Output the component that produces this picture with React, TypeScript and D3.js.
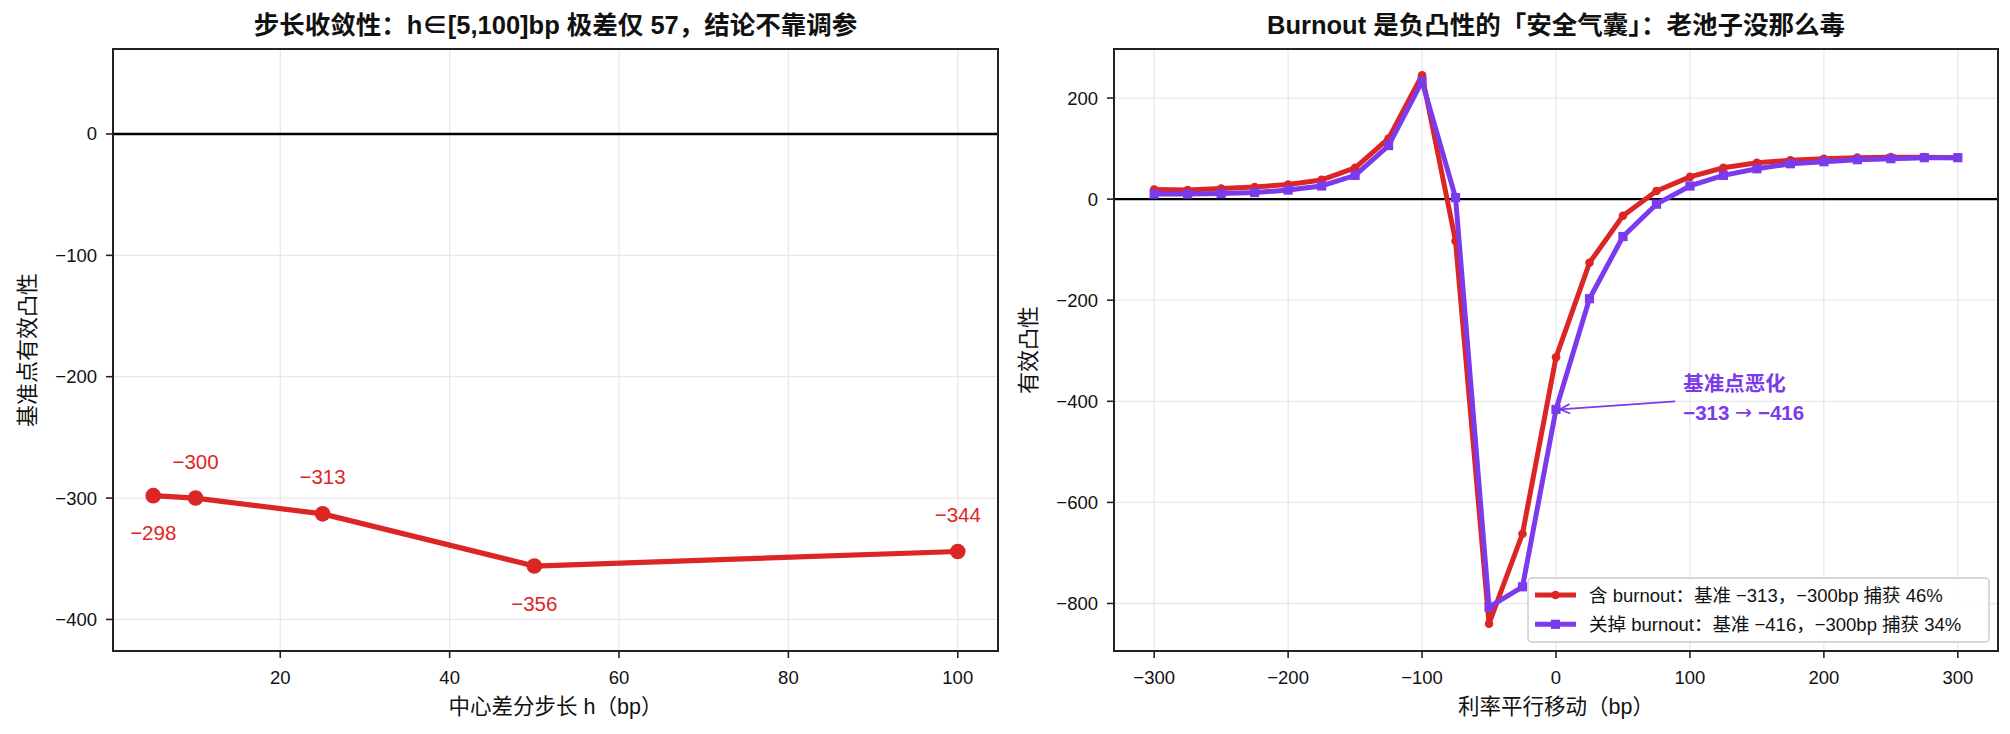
import { useRef, useEffect } from 'react'
import * as d3 from 'd3'

// left panel: step-size convergence
const stepH = [5, 10, 25, 50, 100]
const stepConvexity = [-298, -300, -313, -356, -344]
const stepLabelAbove = [false, true, true, false, true]
const leftXTicks = [20, 40, 60, 80, 100]
const leftYTicks = [0, -100, -200, -300, -400]

// right panel: convexity profile with / without burnout
const shocks = [-300, -275, -250, -225, -200, -175, -150, -125, -100, -75, -50, -25, 0, 25, 50, 75, 100, 125, 150, 175, 200, 225, 250, 275, 300]
const withBurnout = [19, 18, 21, 24, 29, 38, 62, 120, 245, -83, -840, -662, -313, -126, -33, 16, 44, 62, 72, 77, 80, 82, 83, 83, 82]
const withoutBurnout = [10, 10, 11, 13, 18, 26, 47, 106, 233, 3, -807, -767, -416, -197, -74, -10, 26, 47, 60, 70, 74, 78, 80, 82, 82]
const rightXTicks = [-300, -200, -100, 0, 100, 200, 300]
const rightYTicks = [200, 0, -200, -400, -600, -800]

const legendLabels = [
  '含 burnout：基准 −313，−300bp 捕获 46%',
  '关掉 burnout：基准 −416，−300bp 捕获 34%',
]

const RED = '#dc2626'
const PURPLE = '#7c3aed'
const FONT = '"Liberation Sans", "Noto Sans CJK SC", sans-serif'
const W = 2010
const H = 734

const fmt = (v: number) => String(v).replace('-', '−')

export default function App() {
  const svgRef = useRef<SVGSVGElement>(null)

  useEffect(() => {
    const svg = d3.select(svgRef.current)
    svg.selectAll('*').remove()
    svg.attr('font-family', FONT)

    const top = 49, bottom = 651

    function axesFrame(
      x: d3.ScaleLinear<number, number>,
      y: d3.ScaleLinear<number, number>,
      xTicks: number[],
      yTicks: number[],
      title: string,
      xLabel: string,
      yLabel: string,
      yLabelX: number,
    ) {
      const [x0, x1] = x.range()
      const g = svg.append('g')
      // grid
      g.selectAll('.gx').data(xTicks).join('line')
        .attr('x1', d => x(d)).attr('x2', d => x(d))
        .attr('y1', top).attr('y2', bottom)
        .attr('stroke', '#e8e8e8').attr('stroke-width', 1.3)
      g.selectAll('.gy').data(yTicks).join('line')
        .attr('x1', x0).attr('x2', x1)
        .attr('y1', d => y(d)).attr('y2', d => y(d))
        .attr('stroke', '#e8e8e8').attr('stroke-width', 1.3)
      // zero line
      g.append('line')
        .attr('x1', x0).attr('x2', x1)
        .attr('y1', y(0)).attr('y2', y(0))
        .attr('stroke', '#000').attr('stroke-width', 2.4)

      const front = svg.append('g').attr('class', 'front')
      // ticks
      front.selectAll('.tx').data(xTicks).join('line')
        .attr('x1', d => x(d)).attr('x2', d => x(d))
        .attr('y1', bottom).attr('y2', bottom + 7)
        .attr('stroke', '#222').attr('stroke-width', 1.6)
      front.selectAll('.txl').data(xTicks).join('text')
        .attr('x', d => x(d)).attr('y', 677)
        .attr('text-anchor', 'middle').attr('dominant-baseline', 'central')
        .attr('font-size', 18.5).attr('fill', '#111')
        .text(d => fmt(d))
      front.selectAll('.ty').data(yTicks).join('line')
        .attr('x1', x0 - 7).attr('x2', x0)
        .attr('y1', d => y(d)).attr('y2', d => y(d))
        .attr('stroke', '#222').attr('stroke-width', 1.6)
      front.selectAll('.tyl').data(yTicks).join('text')
        .attr('x', x0 - 16).attr('y', d => y(d))
        .attr('text-anchor', 'end').attr('dominant-baseline', 'central')
        .attr('font-size', 18.5).attr('fill', '#111')
        .text(d => fmt(d))
      // labels
      front.append('text')
        .attr('x', (x0 + x1) / 2).attr('y', 25)
        .attr('text-anchor', 'middle').attr('dominant-baseline', 'central')
        .attr('font-size', 25.5).attr('font-weight', 'bold').attr('fill', '#111')
        .text(title)
      front.append('text')
        .attr('x', (x0 + x1) / 2).attr('y', 707)
        .attr('text-anchor', 'middle').attr('dominant-baseline', 'central')
        .attr('font-size', 21.5).attr('fill', '#111')
        .text(xLabel)
      front.append('text')
        .attr('transform', `translate(${yLabelX},${(top + bottom) / 2}) rotate(-90)`)
        .attr('text-anchor', 'middle').attr('dominant-baseline', 'central')
        .attr('font-size', 22).attr('fill', '#111')
        .text(yLabel)
      return front
    }

    function frameRect(x: d3.ScaleLinear<number, number>) {
      const [x0, x1] = x.range()
      svg.append('rect')
        .attr('x', x0).attr('y', top)
        .attr('width', x1 - x0).attr('height', bottom - top)
        .attr('fill', 'none').attr('stroke', '#222').attr('stroke-width', 2)
    }

    // ---------- left ----------
    const xL = d3.scaleLinear().domain([0.25, 104.75]).range([113, 998])
    const yL = d3.scaleLinear().domain([-426, 70]).range([bottom, top])
    axesFrame(xL, yL, leftXTicks, leftYTicks,
      '步长收敛性：h∈[5,100]bp 极差仅 57，结论不靠调参',
      '中心差分步长 h（bp）', '基准点有效凸性', 27)

    const stepData = stepH.map((h, i) => ({ h, v: stepConvexity[i], above: stepLabelAbove[i] }))
    const lineL = d3.line<{ h: number; v: number }>().x(d => xL(d.h)).y(d => yL(d.v))
    svg.append('path').datum(stepData)
      .attr('d', lineL).attr('fill', 'none')
      .attr('stroke', RED).attr('stroke-width', 5.2).attr('stroke-linejoin', 'round')
    svg.selectAll('.ptL').data(stepData).join('circle')
      .attr('cx', d => xL(d.h)).attr('cy', d => yL(d.v)).attr('r', 7.8)
      .attr('fill', RED)
    svg.selectAll('.lblL').data(stepData).join('text')
      .attr('x', d => xL(d.h)).attr('y', d => yL(d.v) + (d.above ? -37 : 37))
      .attr('text-anchor', 'middle').attr('dominant-baseline', 'central')
      .attr('font-size', 20.5).attr('fill', RED)
      .text(d => fmt(d.v))
    frameRect(xL)

    // ---------- right ----------
    const xR = d3.scaleLinear().domain([-330, 330]).range([1114, 1998])
    const yR = d3.scaleLinear().domain([-894, 297]).range([bottom, top])
    axesFrame(xR, yR, rightXTicks, rightYTicks,
      'Burnout 是负凸性的「安全气囊」：老池子没那么毒',
      '利率平行移动（bp）', '有效凸性', 1028)

    type P = { s: number; v: number }
    const redData: P[] = shocks.map((s, i) => ({ s, v: withBurnout[i] }))
    const purpleData: P[] = shocks.map((s, i) => ({ s, v: withoutBurnout[i] }))
    const lineR = d3.line<P>().x(d => xR(d.s)).y(d => yR(d.v))

    svg.append('path').datum(redData)
      .attr('d', lineR).attr('fill', 'none')
      .attr('stroke', RED).attr('stroke-width', 5).attr('stroke-linejoin', 'round')
    svg.selectAll('.ptR').data(redData).join('circle')
      .attr('cx', d => xR(d.s)).attr('cy', d => yR(d.v)).attr('r', 4.3)
      .attr('fill', RED)
    svg.append('path').datum(purpleData)
      .attr('d', lineR).attr('fill', 'none')
      .attr('stroke', PURPLE).attr('stroke-width', 5).attr('stroke-linejoin', 'round')
    svg.selectAll('.ptP').data(purpleData).join('rect')
      .attr('x', d => xR(d.s) - 4.6).attr('y', d => yR(d.v) - 4.6)
      .attr('width', 9.2).attr('height', 9.2)
      .attr('fill', PURPLE)

    // annotation
    const tipX = xR(3), tipY = yR(-416)
    const tailX = xR(89), tailY = yR(-400)
    const ang = Math.atan2(tipY - tailY, tipX - tailX)
    const hl = 11, hw = 0.45
    svg.append('line')
      .attr('x1', tailX).attr('y1', tailY).attr('x2', tipX).attr('y2', tipY)
      .attr('stroke', PURPLE).attr('stroke-width', 1.8)
    svg.append('path')
      .attr('d', `M${tipX - hl * Math.cos(ang - hw)},${tipY - hl * Math.sin(ang - hw)}L${tipX},${tipY}L${tipX - hl * Math.cos(ang + hw)},${tipY - hl * Math.sin(ang + hw)}`)
      .attr('fill', 'none').attr('stroke', PURPLE).attr('stroke-width', 1.8)
    svg.append('text')
      .attr('x', xR(95)).attr('y', yR(-364))
      .attr('dominant-baseline', 'central')
      .attr('font-size', 20.5).attr('font-weight', 'bold').attr('fill', PURPLE)
      .text('基准点恶化')
    const t2 = svg.append('text')
      .attr('x', xR(95)).attr('y', yR(-422))
      .attr('dominant-baseline', 'central')
      .attr('font-size', 20.5).attr('font-weight', 'bold').attr('fill', PURPLE)
    t2.append('tspan').text('−313 ')
    t2.append('tspan').attr('font-family', '"DejaVu Sans"').attr('font-weight', 'normal').text('→')
    t2.append('tspan').text(' −416')

    // legend
    const lg = svg.append('g')
    lg.append('rect')
      .attr('x', 1528).attr('y', 578).attr('width', 461).attr('height', 64).attr('rx', 4)
      .attr('fill', '#fff').attr('fill-opacity', 0.85)
      .attr('stroke', '#cccccc').attr('stroke-width', 1.5)
    legendLabels.forEach((label, i) => {
      const ly = 595 + i * 29.3
      const color = i === 0 ? RED : PURPLE
      lg.append('line')
        .attr('x1', 1535).attr('x2', 1576).attr('y1', ly).attr('y2', ly)
        .attr('stroke', color).attr('stroke-width', 5)
      if (i === 0) {
        lg.append('circle').attr('cx', 1555.5).attr('cy', ly).attr('r', 4.3).attr('fill', color)
      } else {
        lg.append('rect').attr('x', 1555.5 - 4.6).attr('y', ly - 4.6)
          .attr('width', 9.2).attr('height', 9.2).attr('fill', color)
      }
      lg.append('text')
        .attr('x', 1589).attr('y', ly)
        .attr('dominant-baseline', 'central')
        .attr('font-size', 18.5).attr('fill', '#111')
        .text(label)
    })
    frameRect(xR)

    // keep ticks/labels on top
    svg.selectAll<SVGGElement, unknown>('.front').raise()
  }, [])

  return (
    <svg
      ref={svgRef}
      width={W}
      height={H}
      style={{ position: 'absolute', left: 0, top: 0, background: '#fff' }}
    />
  )
}
